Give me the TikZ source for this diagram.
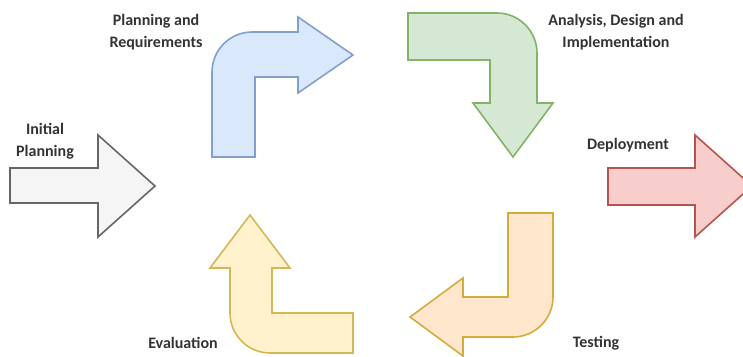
\documentclass[tikz,border=0pt]{standalone}
\usepackage{fontspec}
\setmainfont{Carlito}
\usepackage{tikz}
\usetikzlibrary{positioning}
\usepackage{xcolor}
\definecolor{grayfill}{RGB}{245,245,245}
\definecolor{grayline}{RGB}{102,102,102}
\definecolor{bluefill}{RGB}{218,232,252}
\definecolor{blueline}{RGB}{130,160,205}
\definecolor{greenfill}{RGB}{213,232,212}
\definecolor{greenline}{RGB}{130,179,102}
\definecolor{redfill}{RGB}{248,206,204}
\definecolor{redline}{RGB}{184,84,80}
\definecolor{orangefill}{RGB}{255,230,204}
\definecolor{orangeline}{RGB}{212,172,62}
\definecolor{yellowfill}{RGB}{255,242,204}
\definecolor{yellowline}{RGB}{214,182,86}
\definecolor{labelgray}{RGB}{51,51,51}

\begin{document}
\begin{tikzpicture}[
    x=1pt, y=-1pt,
    bigarrow/.style={draw=#1line, fill=#1fill, line width=1.6pt, line join=miter},
    label/.style={align=center, font=\fontsize{16}{22}\selectfont\bfseries, text=labelgray, inner sep=0pt},
]
    \useasboundingbox (0,0) rectangle (743,356);
    \clip (0,0) rectangle (743,356);

    % Initial planning (straight arrow)
    \draw[bigarrow=gray] (10,168) -- (98,168) -- (98,135) -- (155,186) -- (98,237) -- (98,203) -- (10,203) -- cycle;

    % Planning and requirements (bent up and right)
    \draw[bigarrow=blue] (212,157) -- (212,72) .. controls (212,50) and (230,32) .. (252,32) -- (298,32) -- (298,17) -- (353,55) -- (298,93) -- (298,77) -- (255,77) -- (255,157) -- cycle;

    % Analysis, design and implementation (bent right and down)
    \draw[bigarrow=green] (408,13) -- (497,13) .. controls (519,13) and (537,31) .. (537,53) -- (537,103) -- (553,103) -- (513,157) -- (473,103) -- (490,103) -- (490,60) -- (408,60) -- cycle;

    % Deployment (straight arrow, cut by the border)
    \draw[bigarrow=red] (608,168) -- (695,168) -- (695,135) -- (752,186) -- (695,237) -- (695,205) -- (608,205) -- cycle;

    % Testing (bent down and left)
    \draw[bigarrow=orange] (508,213) -- (553,213) -- (553,297) .. controls (553,319) and (535,337) .. (513,337) -- (463,337) -- (463,356) -- (410,317) -- (463,278) -- (463,297) -- (508,297) -- cycle;

    % Evaluation (bent left and up)
    \draw[bigarrow=yellow] (250,215) -- (290,268) -- (272,268) -- (272,313) -- (353,313) -- (353,353) -- (270,353) .. controls (248,353) and (230,335) .. (230,313) -- (230,268) -- (210,268) -- cycle;

    % Labels
    \node[label] (initial) at (45,141) {Initial\\Planning};
    \node[label] (planning) at (156,32) {Planning and\\Requirements};
    \node[label] (analysis) at (616,32) {Analysis, Design and\\Implementation};
    \node[label] (deployment) at (628,145) {Deployment};
    \node[label] (evaluation) at (183,343) {Evaluation};
    \node[label] (testing) at (596,343) {Testing};

\end{tikzpicture}
\end{document}
